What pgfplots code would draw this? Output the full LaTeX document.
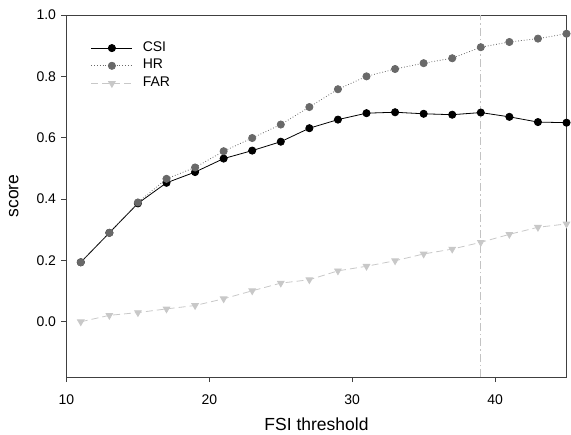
\documentclass[border=0pt]{standalone}
\usepackage{fontspec}
\setmainfont{Liberation Sans}
\usepackage{pgfplots}
\pgfplotsset{compat=1.18}
\definecolor{hrgray}{RGB}{105,105,105}
\definecolor{fargray}{RGB}{200,200,200}
\definecolor{vline}{RGB}{195,195,195}
\definecolor{frame}{RGB}{64,64,64}
\begin{document}
\begin{tikzpicture}
\begin{axis}[
  scale only axis,
  width=500pt, height=362pt,
  xmin=10, xmax=45, ymin=-0.18, ymax=1.0,
  xtick={10,20,30,40},
  ytick={0,0.2,0.4,0.6,0.8,1.0},
  yticklabel style={xshift=-2pt, /pgf/number format/.cd,fixed,fixed zerofill,precision=1},
  /pgf/number format/assume math mode=true,
  tick align=outside, tick pos=left,
  major tick length=5pt,
  axis line style={frame, line width=0.8pt},
  every tick/.style={frame, line width=0.8pt},
  tick label style={font=\fontsize{14}{16}\selectfont},
  xticklabel style={yshift=-9pt},
  xlabel={FSI threshold}, ylabel={score},
  label style={font=\fontsize{17.5}{20}\selectfont},
  xlabel style={yshift=-6.5pt},
  ylabel style={yshift=11pt},
  legend style={draw=none, fill=none, at={(0.049,0.933)}, anchor=north west,
    inner sep=0pt, outer sep=0pt,
    font=\fontsize{14}{16}\selectfont, row sep=0pt, column sep=10pt,
    nodes={inner sep=0pt, text height=12pt, text depth=5.7pt}},
  legend cell align=left,
  legend image code/.code={\draw[mark repeat=2,mark phase=2,#1] plot coordinates {(0pt,0pt)(20.5pt,0pt)(41pt,0pt)};},
]
\addplot[black, line width=0.8pt, mark=*, mark size=3.6pt, mark options={solid, fill=black}] coordinates {
(11,0.194)(13,0.290)(15,0.386)(17,0.453)(19,0.488)(21,0.532)(23,0.558)(25,0.587)(27,0.631)(29,0.659)(31,0.680)(33,0.683)(35,0.678)(37,0.675)(39,0.682)(41,0.668)(43,0.651)(45,0.649)};
\addlegendentry{CSI}
\addplot[hrgray, line width=0.8pt, dotted, mark=*, mark size=3.6pt, mark options={solid, fill=hrgray}] coordinates {
(11,0.194)(13,0.290)(15,0.389)(17,0.466)(19,0.503)(21,0.556)(23,0.599)(25,0.643)(27,0.700)(29,0.758)(31,0.800)(33,0.824)(35,0.843)(37,0.859)(39,0.895)(41,0.912)(43,0.923)(45,0.939)};
\addlegendentry{HR}
\addplot[fargray, line width=0.8pt, dash pattern=on 7pt off 4pt, mark=triangle*, mark size=3.8pt, mark options={solid, fill=fargray, rotate=180}] coordinates {
(11,0.000)(13,0.021)(15,0.030)(17,0.042)(19,0.053)(21,0.075)(23,0.101)(25,0.126)(27,0.137)(29,0.166)(31,0.181)(33,0.199)(35,0.221)(37,0.237)(39,0.259)(41,0.285)(43,0.308)(45,0.319)};
\addlegendentry{FAR}
\addplot[vline, line width=0.8pt, dash pattern=on 8pt off 3pt on 1.5pt off 3pt, forget plot] coordinates {(39,-0.18)(39,1.0)};
\end{axis}
\pgfresetboundingbox
\path ([shift={(-66.5pt,-57pt)}]current axis.south west) rectangle ([shift={(4.5pt,15pt)}]current axis.north east);
\end{tikzpicture}
\end{document}
